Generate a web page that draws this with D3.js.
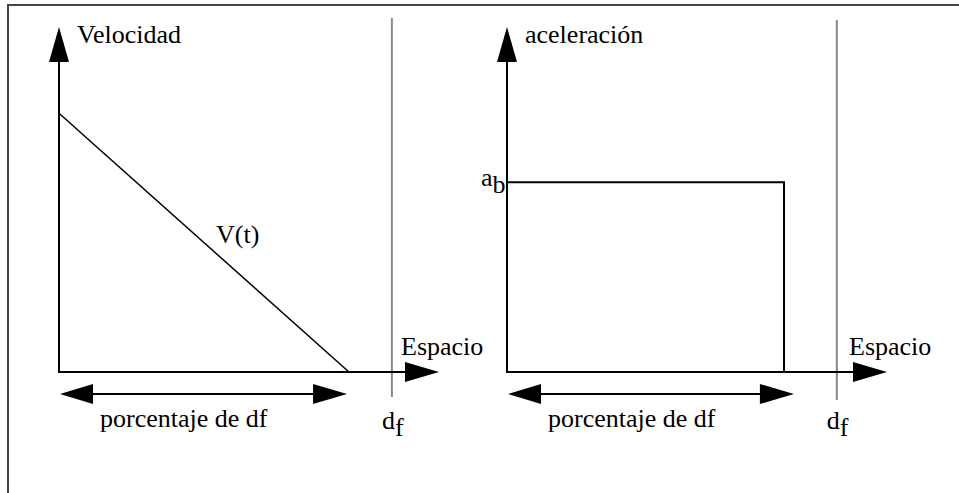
<!DOCTYPE html>
<html><head><meta charset="utf-8">
<script src="https://cdn.jsdelivr.net/npm/d3@7"></script>
<style>body{margin:0;background:#fff}svg{display:block}</style>
</head><body>
<script>
// Data
const yLabels = ["Velocidad", "aceleración"];
const xLabel = "Espacio";
const spanLabel = "porcentaje de df";
const startValues = [7.5, 5.5];      // V(0), a_b (y units 0..10)
const markEnd = [7.63, 7.29];        // where V(t) reaches 0 / braking ends (x units 0..10)
const spanEnd = [7.58, 7.55];        // end of "porcentaje de df" arrow
const dfValues = [8.76, 8.68];       // d_f position
const markLabels = ["V(t)", null];
const levelLabel = [null, ["a", "b"]];
const dfLabel = ["d", "f"];

const W = 959, H = 493;
const FONT = "'Liberation Serif', 'Times New Roman', Times, 'DejaVu Serif', serif";
const FS = 26;
const svg = d3.select("body").append("svg").attr("width", W).attr("height", H)
  .attr("font-family", FONT).attr("font-size", FS);

// frame (top and left edges)
svg.append("path").attr("d", `M8,${H} L8,5 L${W},5`).attr("fill", "none").attr("stroke", "#444").attr("stroke-width", 2);

const origins = [59, 507];
const y = d3.scaleLinear().domain([0, 10]).range([372, 27]);

function txt(g, xp, yp) {
  return g.append("text").attr("x", xp).attr("y", yp).attr("font-family", FONT).attr("font-size", FS).attr("fill", "#000");
}

origins.forEach((ox, i) => {
  const x = d3.scaleLinear().domain([0, 10]).range([ox, ox + 380]);
  const g = svg.append("g");
  const y0 = y(0);

  // d_f vertical line
  const dx = x(dfValues[i]);
  g.append("line").attr("x1", dx).attr("x2", dx).attr("y1", i === 0 ? 18 : 20).attr("y2", i === 0 ? 397 : 400)
    .attr("stroke", "#888").attr("stroke-width", 2);

  // marks
  if (i === 0) {
    g.append("line").attr("x1", x(0)).attr("y1", y(startValues[0])).attr("x2", x(markEnd[0])).attr("y2", y0)
      .attr("stroke", "#000").attr("stroke-width", 1.5);
    txt(g, 216, 243).text(markLabels[0]);
  } else {
    g.append("path").attr("d", `M${x(0)},${y(startValues[1])} L${x(markEnd[1])},${y(startValues[1])} L${x(markEnd[1])},${y0}`)
      .attr("fill", "none").attr("stroke", "#000").attr("stroke-width", 2);
    const t = txt(g, ox - 26, y(startValues[1]) + 4);
    t.append("tspan").text(levelLabel[1][0]);
    t.append("tspan").attr("dy", 7).text(levelLabel[1][1]);
  }

  // axes
  g.append("line").attr("x1", x(0)).attr("x2", x(10) - 30).attr("y1", y0).attr("y2", y0).attr("stroke", "#000").attr("stroke-width", 2);
  g.append("line").attr("x1", x(0)).attr("x2", x(0)).attr("y1", y0 + 1).attr("y2", y(10) + 30).attr("stroke", "#000").attr("stroke-width", 2);
  // arrowheads
  g.append("path").attr("d", `M${x(10)},${y0} L${x(10) - 34},${y0 - 10} L${x(10) - 34},${y0 + 10} Z`).attr("fill", "#000");
  g.append("path").attr("d", `M${x(0)},${y(10)} L${x(0) - 10},${y(10) + 35} L${x(0) + 10},${y(10) + 35} Z`).attr("fill", "#000");

  // labels
  txt(g, x(0) + 18, 43).text(yLabels[i]);
  txt(g, x(10) - 38, 355).text(xLabel);

  // double arrow
  const ay = 394;
  const a0 = x(0) + 1, a1 = x(spanEnd[i]);
  g.append("line").attr("x1", a0 + 20).attr("x2", a1 - 20).attr("y1", ay).attr("y2", ay).attr("stroke", "#000").attr("stroke-width", 2);
  g.append("path").attr("d", `M${a0},${ay} L${a0 + 33},${ay - 10} L${a0 + 33},${ay + 10} Z`).attr("fill", "#000");
  g.append("path").attr("d", `M${a1},${ay} L${a1 - 34},${ay - 10} L${a1 - 34},${ay + 10} Z`).attr("fill", "#000");
  txt(g, a0 + 40, 427).text(spanLabel);

  // d_f label
  const dt = txt(g, dx - 10, 429);
  dt.append("tspan").text(dfLabel[0]);
  dt.append("tspan").attr("dy", 7).text(dfLabel[1]);
});
</script>
</body></html>
